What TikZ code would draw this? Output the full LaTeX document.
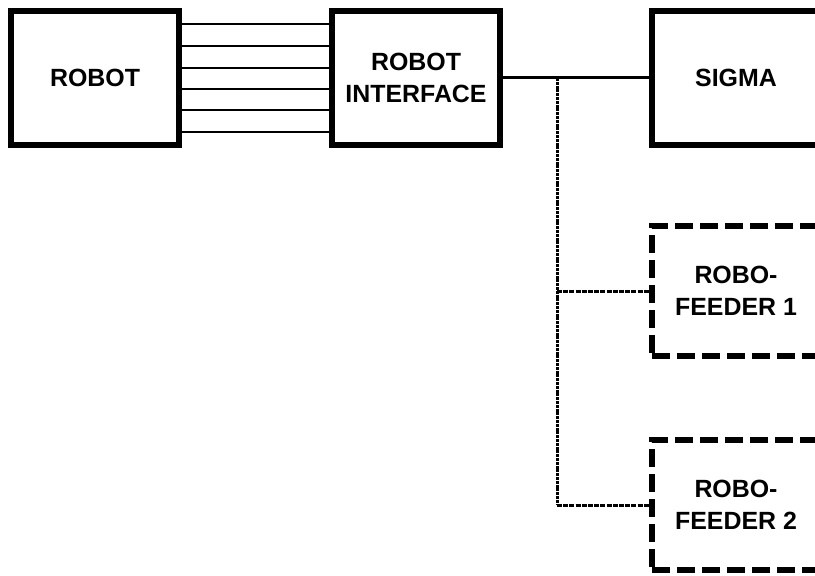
\documentclass[tikz,border=0pt]{standalone}
\usepackage{fontspec}
\setmainfont{Liberation Sans}

\begin{document}
\begin{tikzpicture}[x=1bp, y=-1bp,
    font=\bfseries\fontsize{25}{32}\selectfont,
    unit/.style={draw, rectangle, line width=6bp, inner sep=0pt,
      minimum width=168bp, minimum height=134bp, align=center},
    option/.style={unit, minimum height=130bp, dash pattern=on 18bp off 7bp},
    wire/.style={line width=2.2bp},
    bus/.style={line width=3bp},
    tapline/.style={line width=3bp, dash pattern=on 3bp off 0.8bp},
    branch/.style={line width=3bp, dash pattern=on 5bp off 1.2bp}]
  \useasboundingbox[fill=white] (0,0) rectangle (815,576);
  \clip (0,0) rectangle (815,576);

  % --- main units ---
  \node[unit] (robot) at (95,78)  {ROBOT};
  \node[unit] (iface) at (416,78) {ROBOT\\INTERFACE};
  \node[unit] (sigma) at (736,78) {SIGMA};

  % --- optional feeders ---
  \node[option] (feeder1) at (736,291) {ROBO-\\FEEDER 1};
  \node[option] (feeder2) at (736,505) {ROBO-\\FEEDER 2};

  % robot cable
  \foreach \y in {24,46,68,89,110,132}
    \draw[wire] (robot.east |- 0,\y) -- (iface.west |- 0,\y);

  % bus to sigma and taps to the feeders
  \draw[bus] (iface.east) -- (sigma.west);
  \coordinate (tap) at (557,78);
  \coordinate (tap1) at (tap |- feeder1.west);
  \coordinate (tap2) at (tap |- feeder2.west);
  \draw[tapline] (tap) -- (tap2);
  \draw[branch] (tap1) -- (feeder1.west);
  \draw[branch] (tap2) -- (feeder2.west);
\end{tikzpicture}
\end{document}
